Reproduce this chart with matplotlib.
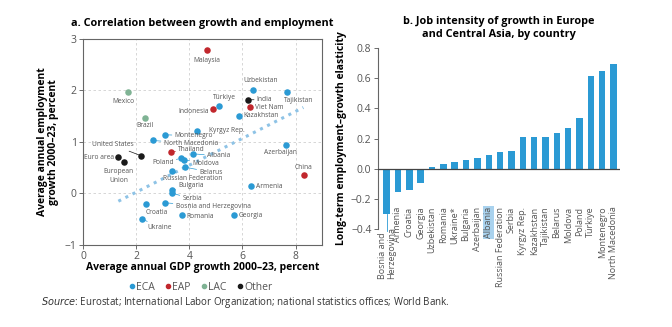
import matplotlib
matplotlib.use("Agg")
import matplotlib.pyplot as plt
from matplotlib.lines import Line2D

plt.rcParams['font.family'] = ['Open Sans', 'DejaVu Sans']

# panel a data
countries = ['Malaysia', 'Mexico', 'Uzbekistan', 'Tajikistan', 'India', 'Türkiye', 'Indonesia',
             'Viet Nam', 'Kazakhstan', 'Brazil', 'Kyrgyz Rep.', 'Montenegro', 'North Macedonia',
             'United States', 'Thailand', 'Albania', 'Euro area', 'European\nUnion', 'Poland',
             'Moldova', 'Belarus', 'Russian Federation', 'Azerbaijan', 'China', 'Armenia',
             'Bulgaria', 'Serbia', 'Croatia', 'Bosnia and Herzegovina', 'Romania', 'Georgia', 'Ukraine']
gdp = [4.67, 1.69, 6.39, 7.69, 6.20, 5.13, 4.89, 6.30, 5.87, 2.34, 4.29, 3.07, 2.62,
       2.20, 3.32, 4.14, 1.33, 1.54, 3.67, 3.81, 3.85, 3.33, 7.65, 8.33, 6.31,
       3.36, 3.33, 2.38, 3.07, 3.74, 5.69, 2.21]
emp = [2.79, 1.97, 2.00, 1.97, 1.82, 1.69, 1.65, 1.67, 1.51, 1.46, 1.21, 1.14, 1.03,
       0.73, 0.81, 0.77, 0.70, 0.61, 0.68, 0.65, 0.51, 0.44, 0.94, 0.36, 0.15,
       0.06, 0.01, -0.20, -0.18, -0.42, -0.42, -0.49]
region = ['EAP', 'LAC', 'ECA', 'ECA', 'Other', 'ECA', 'EAP', 'EAP', 'ECA', 'LAC', 'ECA', 'ECA', 'ECA',
          'Other', 'EAP', 'ECA', 'Other', 'Other', 'ECA', 'ECA', 'ECA', 'ECA', 'ECA', 'EAP', 'ECA',
          'ECA', 'ECA', 'ECA', 'ECA', 'ECA', 'ECA', 'ECA']
trend_x = [1.33, 8.29]
trend_y = [-0.15, 1.67]

# panel b data
bar_names = ['Bosnia and\nHerzegovina', 'Armenia', 'Croatia', 'Georgia', 'Uzbekistan', 'Romania',
             'Ukraine*', 'Bulgaria', 'Azerbaijan', 'Albania', 'Russian Federation', 'Serbia',
             'Kyrgyz Rep.', 'Kazakhstan', 'Tajikistan', 'Belarus', 'Moldova', 'Poland',
             'Türkiye', 'Montenegro', 'North Macedonia']
elasticity = [-0.30, -0.152, -0.143, -0.094, 0.015, 0.031, 0.046, 0.059, 0.07, 0.094, 0.11, 0.119,
              0.209, 0.209, 0.211, 0.24, 0.272, 0.334, 0.611, 0.648, 0.692]

colors = {'ECA': '#2b9ad4', 'EAP': '#c1272d', 'LAC': '#7fb394', 'Other': '#1a1a1a'}
grey = '#555555'

# label offsets (pixels), alignment, leader line
lab = {
    'Malaysia': (0, -7, 'center', 'top', False),
    'Mexico': (-4, -6, 'center', 'top', False),
    'Uzbekistan': (8, 6, 'center', 'bottom', False),
    'Tajikistan': (11, -5, 'center', 'top', False),
    'India': (9, 0, 'left', 'center', True),
    'Türkiye': (5, 5, 'center', 'bottom', False),
    'Indonesia': (-4, -3, 'right', 'center', False),
    'Viet Nam': (5, 0, 'left', 'center', False),
    'Kazakhstan': (4, 0, 'left', 'center', False),
    'Brazil': (0, -4, 'center', 'top', False),
    'Kyrgyz Rep.': (12, 1, 'left', 'center', False),
    'Montenegro': (10, -1, 'left', 'center', True),
    'North Macedonia': (11, -3, 'left', 'center', True),
    'United States': (-8, 11, 'right', 'center', True),
    'Thailand': (7, 2, 'left', 'center', True),
    'Albania': (14, -2, 'left', 'center', True),
    'Euro area': (-4, 0, 'right', 'center', False),
    'European\nUnion': (-5, -6, 'center', 'top', False),
    'Poland': (-7, -4, 'right', 'center', True),
    'Moldova': (8, -3, 'left', 'center', True),
    'Belarus': (14, -5, 'left', 'center', True),
    'Russian Federation': (-9, -8, 'left', 'center', True),
    'Azerbaijan': (-6, -4, 'center', 'top', False),
    'China': (-1, 4, 'center', 'bottom', False),
    'Armenia': (5, -1, 'left', 'center', False),
    'Bulgaria': (6, 5, 'left', 'center', True),
    'Serbia': (11, -6, 'left', 'center', True),
    'Croatia': (10, -5, 'center', 'top', False),
    'Bosnia and Herzegovina': (11, -4, 'left', 'center', True),
    'Romania': (4, -1, 'left', 'center', False),
    'Georgia': (4, 0, 'left', 'center', False),
    'Ukraine': (6, -9, 'left', 'center', True),
}

fig = plt.figure(figsize=(6.72, 3.27), dpi=100)

# ---- panel a
ax = fig.add_axes([0.1235, 0.2508, 0.356, 0.63])
ax.plot(trend_x, trend_y, linestyle=(0, (1, 1.6)), color='#8ec3e6', lw=2.2, zorder=1)
for c, x, y, r in zip(countries, gdp, emp, region):
    ax.scatter(x, y, s=22, color=colors[r], zorder=3, linewidths=0)
    dx, dy, ha, va, lead = lab[c]
    ax.annotate(c, (x, y), xytext=(dx, dy), textcoords='offset pixels', ha=ha, va=va,
                fontsize=4.8, color=grey, linespacing=1.3,
                arrowprops=dict(arrowstyle='-', color=colors[r], lw=0.5, shrinkA=0, shrinkB=2) if lead else None)
ax.set_xlim(0, 9)
ax.set_ylim(-1, 3)
ax.set_xticks([0, 2, 4, 6, 8])
ax.set_yticks([-1, 0, 1, 2, 3])
ax.set_yticklabels(['−1', '0', '1', '2', '3'])
ax.grid(True, linestyle=(0, (3, 3)), color='#d0d0d0', lw=0.6)
ax.set_axisbelow(True)
for s in ax.spines.values():
    s.set_color('#666666')
    s.set_linewidth(0.8)
ax.tick_params(labelsize=7.5, colors=grey, length=3, width=0.6, pad=1.5)
ax.set_xlabel('Average annual GDP growth 2000–23, percent', fontsize=7.5, fontweight='bold', labelpad=0)
ax.set_ylabel('Average annual employment\ngrowth 2000–23, percent', fontsize=7.5, fontweight='bold',
              labelpad=4, linespacing=1.1)
ax.set_title('a. Correlation between growth and employment', fontsize=7.8, fontweight='bold', pad=9)

handles = [Line2D([], [], marker='o', ls='', color=colors[k], markersize=3) for k in colors]
fig.legend(handles, list(colors.keys()), loc='center', bbox_to_anchor=(200 / 672, 1 - 287 / 327),
           ncol=4, frameon=False, fontsize=7.5, handletextpad=0.0, handlelength=0.8,
           columnspacing=0.9, borderaxespad=0, labelcolor=grey)

# ---- panel b
bx = fig.add_axes([0.562, 0.2988, 0.36, 0.555])
pos = list(range(len(bar_names)))
bx.bar(pos, elasticity, width=0.57, color='#2b9ad4', zorder=2)
bx.axhline(0, color='#444444', lw=0.9, zorder=3)
bx.set_xlim(-0.79, 20.53)
bx.set_ylim(-0.4, 0.8)
bx.set_yticks([-0.4, -0.2, 0.0, 0.2, 0.4, 0.6, 0.8])
bx.set_yticklabels(['−0.4', '−0.2', '0.0', '0.2', '0.4', '0.6', '0.8'])
bx.set_xticks([])
for s in ['top', 'right', 'bottom']:
    bx.spines[s].set_visible(False)
bx.spines['left'].set_color('#666666')
bx.spines['left'].set_linewidth(0.8)
bx.tick_params(axis='y', labelsize=7.5, colors=grey, length=3, width=0.6, pad=1.5)
for i, n in enumerate(bar_names):
    if i == 0:
        bx.plot([i, i], [elasticity[i], -0.41], color='#2b9ad4', lw=0.6, clip_on=False)
        bx.text(i, -0.73, n, rotation=90, ha='center', va='bottom', fontsize=6.5, color=grey,
                multialignment='left', linespacing=1.0, clip_on=False)
    else:
        kw = {}
        if n == 'Albania':
            kw['bbox'] = dict(boxstyle='square,pad=0.1', fc='#a9d2ee', ec='none')
        bx.text(i, -0.25, n, rotation=90, ha='center', va='top', fontsize=6.5, color=grey,
                clip_on=False, **kw)
bx.set_ylabel('Long-term employment–growth elasticity', fontsize=7.5, fontweight='bold', labelpad=3)
bx.set_title('b. Job intensity of growth in Europe\nand Central Asia, by country', fontsize=7.8,
             fontweight='bold', pad=8, linespacing=1.2)

fig.text(41 / 672, 1 - 303 / 327, r'$\it{Source}$: Eurostat; International Labor Organization; national statistics offices; World Bank.',
         fontsize=7, color='#333333', va='center')

fig.savefig('out.png', dpi=100)
